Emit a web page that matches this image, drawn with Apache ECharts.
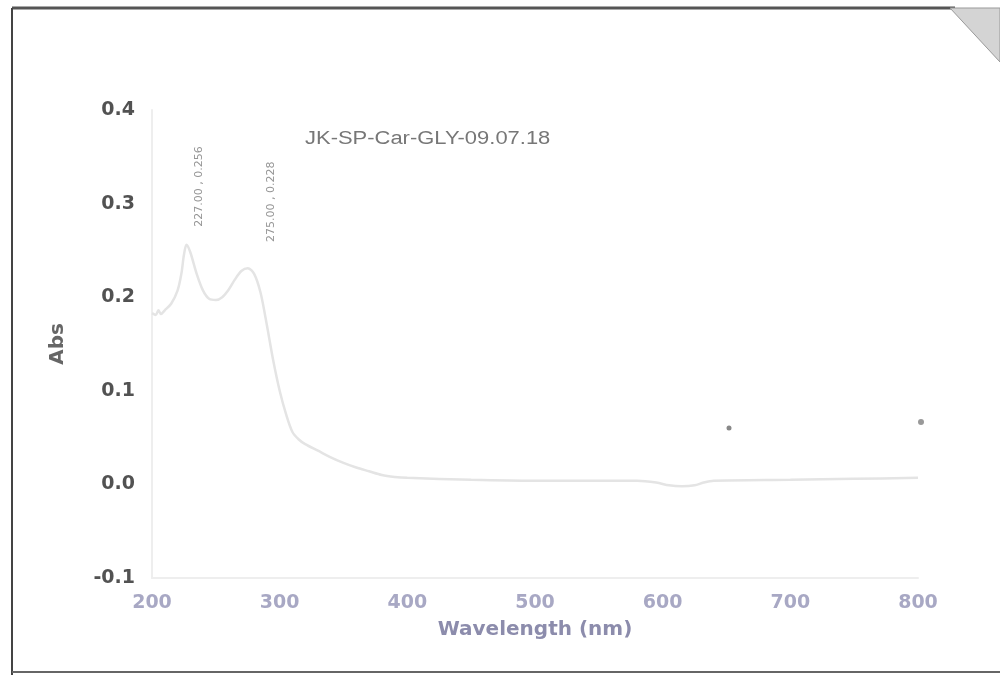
<!DOCTYPE html>
<html><head><meta charset="utf-8">
<script src="https://cdn.jsdelivr.net/npm/echarts@6/dist/echarts.min.js"></script>
<style>html,body{margin:0;padding:0;background:#fff}#c{width:1000px;height:675px}</style>
</head><body><div id="c"></div>
<script>
const wavelengths = [200,203,205,207,210,215,220,223,225,227,230,235,240,245,250,255,260,265,270,275,280,285,290,295,300,305,310,315,320,330,340,350,360,370,380,390,400,450,500,550,580,595,605,615,625,632,640,700,750,800];
const absValues  = [0.183,0.181,0.186,0.182,0.186,0.193,0.207,0.225,0.245,0.256,0.248,0.225,0.207,0.198,0.197,0.200,0.208,0.219,0.228,0.231,0.225,0.205,0.170,0.132,0.100,0.075,0.056,0.048,0.043,0.036,0.029,0.023,0.018,0.014,0.010,0.008,0.007,0.005,0.004,0.004,0.004,0.002,-0.001,-0.002,-0.001,0.002,0.004,0.005,0.006,0.007];
const peakX = [227, 275];
const peakY = [0.256, 0.228];
const peakLabels = ['227.00 , 0.256', '275.00 , 0.228'];
const xTicks = [200,300,400,500,600,700,800];
const yTicks = [-0.1,0.0,0.1,0.2,0.3,0.4];
const sampleName = 'JK-SP-Car-GLY-09.07.18';

const labelOffsets = [[13,-18],[23,-29]];
const chart = echarts.init(document.getElementById('c'));
const sans = 'Liberation Sans, Arial, sans-serif';
const wide = 'DejaVu Sans, sans-serif';
chart.setOption({
  backgroundColor: '#ffffff',
  animation: false,
  grid: {left: 152, right: 82, top: 110, bottom: 97},
  xAxis: {
    type: 'value', min: 200, max: 800, interval: 100,
    name: 'Wavelength (nm)', nameLocation: 'middle', nameGap: 42,
    nameTextStyle: {color: '#8c8cac', fontSize: 20, fontWeight: 'bold', fontFamily: wide},
    axisLine: {show: true, onZero: false, lineStyle: {color: '#eeeeee', width: 2}},
    axisTick: {show: false},
    splitLine: {show: false},
    axisLabel: {color: '#a8a8c4', fontSize: 19, fontWeight: 'bold', fontFamily: wide, margin: 16,
      formatter: v => xTicks.includes(v) ? String(v) : ''}
  },
  yAxis: {
    type: 'value', min: -0.1, max: 0.4, interval: 0.1,
    name: 'Abs', nameLocation: 'middle', nameGap: 84, nameRotate: 90,
    nameTextStyle: {color: '#666666', fontSize: 20, fontWeight: 'bold', fontFamily: wide},
    axisLine: {show: true, lineStyle: {color: '#eeeeee', width: 2}},
    axisTick: {show: false},
    splitLine: {show: false},
    axisLabel: {color: '#525252', fontSize: 19, fontWeight: 'bold', fontFamily: wide, margin: 17,
      formatter: v => { const r = Math.round(v*10)/10; return yTicks.some(t => Math.abs(t-r)<1e-9) ? r.toFixed(1) : ''; }}
  },
  series: [
    {
      type: 'line', smooth: 0.3, symbol: 'none',
      data: wavelengths.map((w,i) => [w, absValues[i]]),
      lineStyle: {color: '#e4e4e4', width: 2.5}
    },
    {
      type: 'scatter', symbolSize: 0,
      data: peakX.map((x,i) => ({value: [x, peakY[i]], name: peakLabels[i],
        label: {position: labelOffsets[i]}})),
      label: {
        show: true, formatter: p => p.name, rotate: 90,
        align: 'left', verticalAlign: 'middle',
        color: '#7a7a7a', fontSize: 11, fontFamily: wide
      },
      silent: true
    }
  ],
  graphic: [
    {type: 'text', x: 305, y: 130, scaleX: 1.22, style: {text: sampleName, fill: '#777777', fontSize: 18, fontFamily: sans}},
    {type: 'line', shape: {x1: 12, y1: 8, x2: 955, y2: 8}, style: {stroke: '#555555', lineWidth: 3}},
    {type: 'line', shape: {x1: 12, y1: 8, x2: 12, y2: 675}, style: {stroke: '#444444', lineWidth: 2}},
    {type: 'line', shape: {x1: 12, y1: 672, x2: 1000, y2: 672}, style: {stroke: '#666666', lineWidth: 2}},
    {type: 'polygon', shape: {points: [[950,8],[1000,8],[1000,62]]}, style: {fill: '#d4d4d4', stroke: '#999999', lineWidth: 1}},
    {type: 'circle', shape: {cx: 729, cy: 428, r: 2.5}, style: {fill: '#888888'}},
    {type: 'circle', shape: {cx: 921, cy: 422, r: 3}, style: {fill: '#999999'}}
  ]
});
</script></body></html>
